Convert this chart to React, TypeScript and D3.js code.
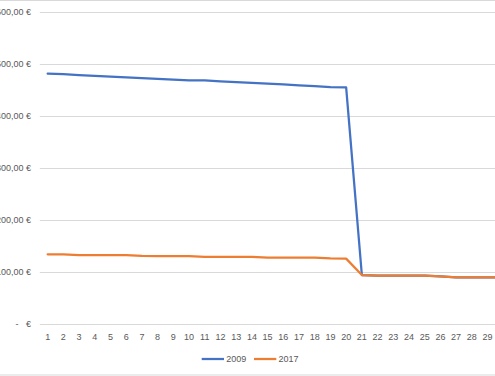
import React from "react";
import * as d3 from "d3";

const categories: number[] = Array.from({ length: 30 }, (_, i) => i + 1);
const series2009: number[] = [481, 480, 478.5, 477, 475.6, 474, 472.7, 471.2, 469.7, 468, 468, 466.4, 465, 463.3, 461.8, 460.3, 458.7, 457, 455, 454.9, 94.6, 93.3, 93.2, 93.2, 93.2, 92, 90.2, 90.2, 90.2, 90.2];
const series2017: number[] = [134.4, 134, 133, 133, 133, 133, 131.5, 131, 131, 131, 129.5, 129.5, 129.5, 129.3, 128, 128, 128, 128, 126.5, 126, 94.6, 93.3, 93.2, 93.2, 93.2, 92, 90.2, 90.2, 90.2, 90.2];
const yTicks: number[] = [0, 100, 200, 300, 400, 500, 600];
const seriesNames: string[] = ["2009", "2017"];
const colors: string[] = ["#4472C4", "#ED7D31"];

export default function App() {
  const W = 495, H = 376;
  const x = d3.scaleBand<number>().domain(categories).range([39.8, 39.8 + 30 * 15.71]).padding(0);
  const y = d3.scaleLinear().domain([0, 600]).range([324.3, 11.7]);
  const cx = (c: number) => (x(c) as number) + x.bandwidth() / 2;
  const line = d3.line<number>().x((_, i) => cx(categories[i])).y((d) => y(d));
  const font = "'Liberation Sans', Arial, sans-serif";
  const fmt = (v: number) => (v === 0 ? "-   €" : `${v},00 €`);
  const allSeries = [series2009, series2017];
  return (
    <svg width={W} height={H} style={{ position: "absolute", left: 0, top: 0, background: "#fff" }}>
      <rect x={-5} y={0.5} width={W + 10} height={374.5} fill="#fff" stroke="#d9d9d9" strokeWidth={1} />
      {yTicks.map((t) => (
        <g key={t}>
          <line x1={39.8} x2={W + 20} y1={Math.round(y(t)) + 0.5} y2={Math.round(y(t)) + 0.5} stroke="#d9d9d9" strokeWidth={1} />
          <text x={31} y={y(t)} dy="0.35em" textAnchor="end" fontFamily={font} fontSize={9} fill="#595959" style={{ whiteSpace: "pre" }}>
            {fmt(t)}
          </text>
        </g>
      ))}
      {categories.map((c) => (
        <text key={c} x={cx(c)} y={340} textAnchor="middle" fontFamily={font} fontSize={9} fill="#595959">
          {c}
        </text>
      ))}
      {allSeries.map((s, i) => (
        <path key={i} d={line(s) || ""} fill="none" stroke={colors[i]} strokeWidth={2.25} strokeLinejoin="round" strokeLinecap="round" />
      ))}
      {seriesNames.map((n, i) => {
        const lx = 201.7 + i * 52.3;
        return (
          <g key={n}>
            <line x1={lx} x2={lx + 22.3} y1={359} y2={359} stroke={colors[i]} strokeWidth={2.25} />
            <text x={lx + 24.5} y={359} dy="0.35em" fontFamily={font} fontSize={9} fill="#595959">
              {n}
            </text>
          </g>
        );
      })}
    </svg>
  );
}
